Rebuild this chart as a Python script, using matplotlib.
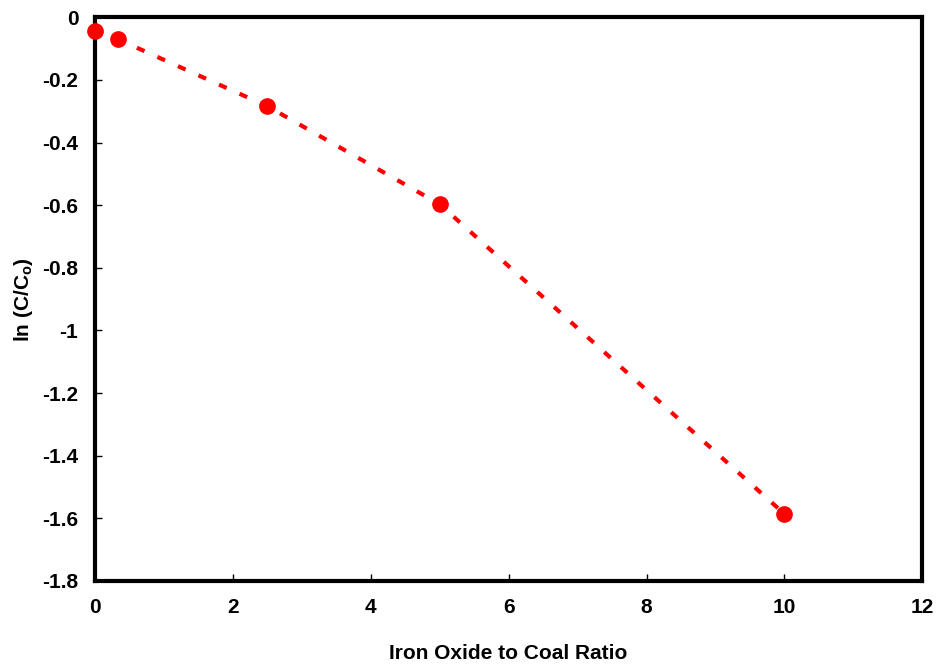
import numpy as np
import matplotlib.pyplot as plt
from matplotlib.ticker import FuncFormatter

plt.rcParams['font.family'] = ['Liberation Sans', 'DejaVu Sans']
plt.rcParams['font.weight'] = 'bold'
plt.rcParams['axes.unicode_minus'] = False
plt.rcParams['mathtext.fontset'] = 'custom'
plt.rcParams['mathtext.rm'] = 'Liberation Sans:bold'
plt.rcParams['mathtext.default'] = 'rm'

# dados
razao = np.array([0, 0.33, 2.5, 5, 10])
ln_c = np.array([-0.045, -0.07, -0.284, -0.597, -1.586])

xticks = [0, 2, 4, 6, 8, 10, 12]
yticks = [0, -0.2, -0.4, -0.6, -0.8, -1, -1.2, -1.4, -1.6, -1.8]

fig = plt.figure(figsize=(9.38, 6.64), dpi=100)
ax = fig.add_axes([0.1013, 0.125, 0.882, 0.849])

ax.plot(razao, ln_c, color='red', linestyle=(0, (2.0, 3.4)), linewidth=3, zorder=2)
ax.plot(razao, ln_c, 'o', color='red', markersize=11, zorder=3, clip_on=False)

ax.set_xlim(0, 12)
ax.set_ylim(-1.8, 0)
ax.set_xticks(xticks)
ax.set_yticks(yticks)
ax.xaxis.set_major_formatter(FuncFormatter(lambda v, p: '%g' % v))
ax.yaxis.set_major_formatter(FuncFormatter(lambda v, p: '%g' % v))
ax.tick_params(direction='in', length=5, width=1, labelsize=15)
ax.tick_params(axis='x', pad=12)
ax.tick_params(axis='y', pad=12)

for s in ax.spines.values():
    s.set_linewidth(3)

ax.set_xlabel('Iron Oxide to Coal Ratio', fontsize=15, fontweight='bold', labelpad=20)
ax.set_ylabel(r'ln (C/C$_\mathregular{o}$)', fontsize=15, fontweight='bold', labelpad=5)

fig.savefig('out.png', dpi=100)
